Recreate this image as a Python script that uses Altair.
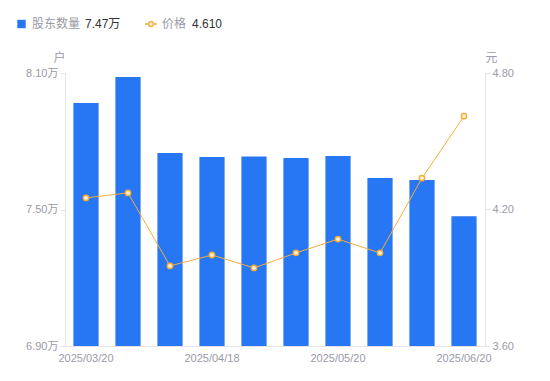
import altair as alt
import pandas as pd

dates = ["2025/03/20", "2025/03/31", "2025/04/10", "2025/04/18", "2025/04/30",
         "2025/05/09", "2025/05/20", "2025/05/30", "2025/06/10", "2025/06/20"]
holders = [7.968, 8.082, 7.748, 7.731, 7.733, 7.726, 7.735, 7.638, 7.630, 7.470]
price = [4.251, 4.273, 3.952, 4.000, 3.943, 4.009, 4.070, 4.009, 4.338, 4.610]

df = pd.DataFrame({"date": dates, "holders": holders, "price": price})

BLUE = "#2776f4"
ORANGE = "#f6ad37"
GRAY = "#9a9aa6"
LINE = "#e3e3e8"
font = "Liberation Sans, Noto Sans CJK SC"

x = alt.X("date:N", sort=dates,
          scale=alt.Scale(paddingInner=0.4, paddingOuter=0.2),
          axis=alt.Axis(title=None, labelAngle=0, ticks=False, domainColor=LINE,
                        labelColor=GRAY, labelFontSize=11, labelPadding=6,
                        labelExpr="indexof(['2025/03/20','2025/04/18','2025/05/20','2025/06/20'], datum.value) >= 0 ? datum.value : ''"))

bars = alt.Chart(df).mark_bar(color=BLUE).encode(
    x=x,
    y=alt.Y("holders:Q", scale=alt.Scale(domain=[6.9, 8.1], zero=False, nice=False),
            axis=alt.Axis(values=[6.9, 7.5, 8.1], grid=False, title="户",
                          labelExpr="format(datum.value, '.2f') + '万'",
                          labelColor=GRAY, labelFontSize=11, domainColor=LINE,
                          tickColor=LINE, tickSize=5, labelPadding=2,
                          titleAngle=0, titleX=-6, titleY=-16, titleAlign="center",
                          titleBaseline="middle", titleColor=GRAY,
                          titleFontWeight="normal", titleFontSize=12)),
    y2=alt.datum(6.9),
)

line = alt.Chart(df).mark_line(color=ORANGE, strokeWidth=1).encode(
    x=x,
    y=alt.Y("price:Q", scale=alt.Scale(domain=[3.6, 4.8], zero=False, nice=False),
            axis=alt.Axis(values=[3.6, 4.2, 4.8], grid=False, title="元", orient="right",
                          format=".2f", labelColor=GRAY, labelFontSize=11,
                          domainColor=LINE, tickColor=LINE, tickSize=5, labelPadding=2,
                          titleAngle=0, titleX=6, titleY=-16, titleAlign="center",
                          titleBaseline="middle", titleColor=GRAY,
                          titleFontWeight="normal", titleFontSize=12)),
)

points = alt.Chart(df).mark_point(shape="circle", filled=True, fill="#fff3dc",
                                  stroke=ORANGE, strokeWidth=1.5, size=28, opacity=1).encode(
    x=x,
    y=alt.Y("price:Q", scale=alt.Scale(domain=[3.6, 4.8], zero=False, nice=False), axis=None),
)

last = df.iloc[[-1]].copy()
last["h_label"] = last["holders"].map(lambda v: f"{v:.2f}万")
last["p_label"] = last["price"].map(lambda v: f"{v:.3f}")

leg_sq = alt.Chart(last).mark_square(color=BLUE, size=70, opacity=1).encode(
    x=alt.value(-43.5), y=alt.value(-49))
leg_t1 = alt.Chart(last).mark_text(align="left", baseline="middle", color=GRAY,
                                   fontSize=12, font=font).encode(
    x=alt.value(-33), y=alt.value(-49), text=alt.value("股东数量"))
leg_v1 = alt.Chart(last).mark_text(align="left", baseline="middle", color="#333333",
                                   fontSize=12, font=font).encode(
    x=alt.value(20), y=alt.value(-49), text="h_label:N")
leg_ln = alt.Chart(last).mark_rule(color=ORANGE, strokeWidth=1.5).encode(
    x=alt.value(80), x2=alt.value(92), y=alt.value(-49))
leg_pt = alt.Chart(last).mark_point(shape="circle", filled=True, fill="white",
                                    stroke=ORANGE, strokeWidth=1.5, size=22, opacity=1).encode(
    x=alt.value(86), y=alt.value(-49))
leg_t2 = alt.Chart(last).mark_text(align="left", baseline="middle", color=GRAY,
                                   fontSize=12, font=font).encode(
    x=alt.value(97), y=alt.value(-49), text=alt.value("价格"))
leg_v2 = alt.Chart(last).mark_text(align="left", baseline="middle", color="#333333",
                                   fontSize=12, font=font).encode(
    x=alt.value(127), y=alt.value(-49), text="p_label:N")

chart = alt.layer(bars, line, points, leg_sq, leg_t1, leg_v1, leg_ln, leg_pt, leg_t2, leg_v2
).resolve_scale(y="independent").properties(
    width=420, height=273,
    autosize=alt.AutoSizeParams(type="none"),
    padding={"left": 57, "top": 65, "right": 57, "bottom": 27},
    background="white",
).configure(font=font).configure_view(stroke="transparent", strokeWidth=0)

chart.save("out.html", embed_options={"renderer": "svg", "actions": False})
